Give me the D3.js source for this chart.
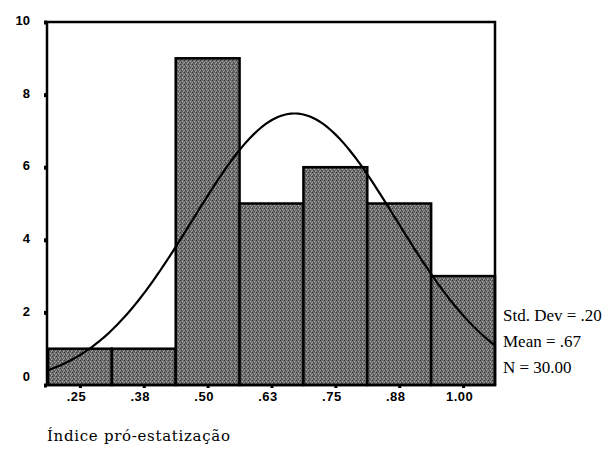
<!DOCTYPE html>
<html>
<head>
<meta charset="utf-8">
<script src="https://cdn.jsdelivr.net/npm/d3@7"></script>
<style>
  body { margin: 0; background: #fff; }
  svg { display: block; }
</style>
</head>
<body>
<svg id="chart" width="612" height="454"></svg>
<script>
// histogram bins (centres) and counts
var binCentres = [0.25, 0.375, 0.50, 0.625, 0.75, 0.875, 1.00];
var counts = [1, 1, 9, 5, 6, 5, 3];
var xTickLabels = ['.25', '.38', '.50', '.63', '.75', '.88', '1.00'];
var yTicks = [0, 2, 4, 6, 8, 10];
var binWidth = 0.125;
var stdDev = 0.20;
var mean = 0.67;
var n = 30;
var statLines = ['Std. Dev = .20', 'Mean = .67', 'N = 30.00'];
var axisTitle = 'Índice pró-estatização';

var svg = d3.select('#chart');

var plotLeft = 48, plotRight = 495, plotTop = 22, plotBottom = 385;

var x = d3.scaleLinear()
  .domain([binCentres[0] - binWidth/2, binCentres[binCentres.length-1] + binWidth/2])
  .range([plotLeft, plotRight]);
var y = d3.scaleLinear().domain([0, 10]).range([plotBottom, plotTop]);

// dithered grey fill, like the scanned print
var defs = svg.append('defs');
var pat = defs.append('pattern')
  .attr('id', 'dither')
  .attr('width', 4).attr('height', 4)
  .attr('patternUnits', 'userSpaceOnUse');
pat.append('rect').attr('width', 4).attr('height', 4).attr('fill', '#6c6c6c');
[[0,0,'#3c3c3c'],[2,1,'#b4b4b4'],[1,2,'#444'],[3,3,'#a8a8a8'],[2,3,'#505050'],[0,2,'#9a9a9a']].forEach(function(p){
  pat.append('rect').attr('x', p[0]).attr('y', p[1]).attr('width', 1).attr('height', 1).attr('fill', p[2]);
});

// bars
svg.selectAll('rect.bar').data(binCentres)
  .enter().append('rect')
  .attr('class', 'bar')
  .attr('x', function(d){ return x(d - binWidth/2); })
  .attr('width', function(d){ return x(d + binWidth/2) - x(d - binWidth/2); })
  .attr('y', function(d, i){ return y(counts[i]); })
  .attr('height', function(d, i){ return y(0) - y(counts[i]); })
  .attr('fill', 'url(#dither)')
  .attr('stroke', '#000')
  .attr('stroke-width', 2.5);

// normal curve
var curvePts = d3.range(x.domain()[0], x.domain()[1] + 0.0001, 0.005).map(function(v){
  var z = (v - mean) / stdDev;
  return [v, n * binWidth / (stdDev * Math.sqrt(2*Math.PI)) * Math.exp(-0.5*z*z)];
});
svg.append('path')
  .datum(curvePts)
  .attr('fill', 'none')
  .attr('stroke', '#000')
  .attr('stroke-width', 2.2)
  .attr('d', d3.line().x(function(d){ return x(d[0]); }).y(function(d){ return y(d[1]); }));

// frame
svg.append('rect')
  .attr('x', plotLeft - 1).attr('y', plotTop)
  .attr('width', plotRight - plotLeft + 1).attr('height', plotBottom - plotTop)
  .attr('fill', 'none')
  .attr('stroke', '#000')
  .attr('stroke-width', 2.5);

// y axis
var yAxis = d3.axisLeft(y).tickValues(yTicks).tickSize(3).tickFormat(d3.format('d'));
var gy = svg.append('g')
  .attr('transform', 'translate(' + (plotLeft - 1) + ',0)')
  .call(yAxis);
gy.select('.domain').remove();
gy.selectAll('.tick line').attr('stroke', '#000').attr('stroke-width', 4);
gy.selectAll('.tick text')
  .attr('x', -17)
  .attr('dy', function(d){ return d === 0 ? '-0.35em' : '0.2em'; })
  .attr('font-family', 'Liberation Sans, Arial, sans-serif')
  .attr('font-size', 13)
  .attr('font-weight', 'bold')
  .attr('fill', '#000');

// x axis
var xAxis = d3.axisBottom(x).tickValues(binCentres).tickSize(3)
  .tickFormat(function(d, i){ return xTickLabels[i]; });
var gx = svg.append('g')
  .attr('transform', 'translate(0,' + plotBottom + ')')
  .call(xAxis);
gx.select('.domain').remove();
gx.selectAll('.tick line').attr('stroke', '#000').attr('stroke-width', 3);
gx.selectAll('.tick text')
  .attr('y', 7)
  .attr('dx', -4)
  .attr('font-family', 'Liberation Sans, Arial, sans-serif')
  .attr('font-size', 13)
  .attr('font-weight', 'bold')
  .attr('letter-spacing', 0.5)
  .attr('fill', '#000');

// stats
svg.selectAll('text.stat').data(statLines)
  .enter().append('text')
  .attr('class', 'stat')
  .attr('x', 503)
  .attr('y', function(d, i){ return 321 + i*26; })
  .attr('font-family', 'Liberation Serif, Times New Roman, serif')
  .attr('font-size', 17)
  .text(function(d){ return d; });

// axis title
svg.append('text')
  .attr('x', 47)
  .attr('y', 441)
  .attr('font-family', 'DejaVu Serif, serif')
  .attr('font-size', 15)
  .attr('textLength', 183)
  .text(axisTitle);
</script>
</body>
</html>
